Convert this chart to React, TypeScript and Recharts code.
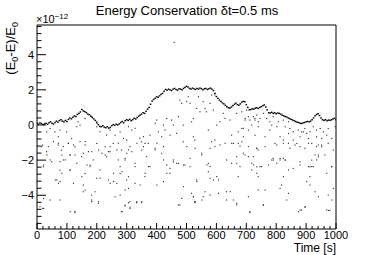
import React from 'react';
import { ScatterChart, Scatter, XAxis, YAxis, ReferenceLine } from 'recharts';

// Upper (dense) band of the energy deviation, sampled every 5 s, units of 1e-12
const envelopeStepSeconds = 5;
const envelopeValues: number[] = [
  0.10, 0.05, 0.12, 0.08, 0.02, 0.06, 0.10, 0.04, 0.12, 0.18, 0.10, 0.05, 0.14, 0.22, 0.16, 0.25, 0.30, 0.22, 0.18, 0.26,
  0.20, 0.32, 0.40, 0.35, 0.44, 0.52, 0.48, 0.60, 0.66, 0.74, 0.88, 0.80, 0.76, 0.70, 0.62, 0.58, 0.50, 0.42, 0.34, 0.26,
  0.12, 0.02, -0.08, -0.10, -0.04, -0.12, -0.16, -0.10, -0.18, -0.14, -0.04, 0.02, -0.02, 0.04, 0.00, 0.06, 0.14, 0.20, 0.12, 0.24,
  0.30, 0.26, 0.32, 0.24, 0.30, 0.38, 0.34, 0.42, 0.50, 0.56, 0.62, 0.70, 0.66, 0.78, 0.90, 1.00, 1.18, 1.36, 1.45, 1.52,
  1.60, 1.58, 1.66, 1.74, 1.80, 1.92, 2.02, 1.98, 2.04, 2.00, 1.96, 2.04, 2.08, 2.02, 1.98, 2.06, 2.04, 2.00, 2.08, 2.14,
  2.20, 2.16, 2.08, 2.04, 2.10, 2.06, 2.02, 2.08, 2.04, 2.10, 2.06, 2.00, 2.06, 2.08, 2.02, 2.06, 2.10, 2.04, 1.96, 1.80,
  1.62, 1.52, 1.42, 1.34, 1.26, 1.20, 1.12, 1.04, 0.98, 0.96, 1.02, 1.10, 1.18, 1.24, 1.16, 1.12, 1.20, 1.30, 1.34, 1.32,
  1.16, 1.00, 0.86, 0.88, 0.92, 0.90, 0.96, 0.98, 0.94, 1.00, 1.04, 1.10, 1.14, 1.02, 0.86, 0.70, 0.68, 0.72, 0.66, 0.70,
  0.64, 0.68, 0.66, 0.62, 0.56, 0.52, 0.48, 0.46, 0.40, 0.36, 0.32, 0.28, 0.24, 0.20, 0.16, 0.14, 0.10, 0.08, 0.12, 0.14,
  0.18, 0.20, 0.18, 0.22, 0.30, 0.40, 0.52, 0.60, 0.64, 0.54, 0.40, 0.30, 0.26, 0.30, 0.24, 0.28, 0.26, 0.30, 0.34, 0.38,
  0.30,
];

// Scattered points below the band: [time s, value 1e-12]
const scatterPoints: [number, number][] = [
  [32,-0.39],[44,-0.2],[60,-0.39],[71,-0.67],[77,-0.29],[99,-0.39],[133,-0.1],[138,0.18],[144,-0.01],[161,0.37],
  [183,0.47],[200,0.18],[200,-0.1],[211,-0.39],[233,-0.58],[244,-0.29],[261,-0.58],[278,-0.39],[289,-0.77],[300,-0.86],[306,-0.1],
  [16,-1.24],[32,-1.52],[44,-1.99],[55,-0.95],[71,-1.14],[82,-1.43],[88,-1.99],[105,-1.05],[110,-1.71],[116,-0.77],
  [127,-1.24],[133,-2.18],[149,-1.8],[161,-0.95],[172,-1.52],[177,-2.37],[188,-1.99],[200,-1.05],[211,-2.56],[228,-1.24],
  [233,-1.8],[244,-1.52],[255,-1.05],[272,-1.99],[278,-2.76],[283,-1.43],[294,-1.99],[306,-2.95],[21,-2.38],[77,-2.57],
  [110,-2.57],[161,-2.76],
  [19,-1.14],[38,-1.23],[33,-1.71],[49,-2.09],[22,-2.28],[72,-1.04],[88,-1.23],[83,-1.71],[77,-2.09],[94,-1.99],
  [105,-1.04],[111,-1.71],[122,-1.14],[127,-1.71],[144,-0.95],[155,-1.61],[161,-1.14],[167,-2.28],[178,-2.28],[183,-1.52],
  [206,-1.42],[217,-1.61],[228,-1.71],[239,-1.52],[245,-1.23],[272,-1.04],[267,-1.42],[278,-2.37],[284,-2.66],[295,-1.9],
  [300,-1.61],[306,-1.42],[311,-1.23],[328,-2.18],[334,-1.04],[356,-1.23],[367,-1.8],[373,-2.37],[395,-1.42],[401,-1.04],
  [417,-1.61],[423,-1.23],[434,-2.28],[445,-2.75],[456,-2.09],[473,-2.18],[490,-2.28],[501,-1.23],[512,-1.9],[529,-1.33],
  [535,-3.22],[66,-3.13],[77,-3.22],[83,-2.75],[111,-2.56],[122,-3.32],[150,-2.94],[155,-3.42],[155,-3.8],[161,-3.7],
  [183,-3.99],[183,-4.27],[194,-3.8],[200,-3.03],[211,-3.03],[206,-4.37],[239,-3.13],[245,-3.32],[256,-2.75],[256,-3.22],
  [261,-4.08],[267,-3.32],[278,-3.99],[284,-4.93],[295,-4.56],[295,-3.7],[300,-3.13],[306,-3.61],[311,-4.37],[311,-4.75],
  [328,-3.32],[334,-4.37],[351,-4.37],[345,-3.42],[362,-2.75],[401,-3.42],[423,-3.22],[434,-2.75],[473,-4.56],[484,-4.18],
  [490,-3.51],[523,-4.08],[529,-4.37],[111,-4.93],[127,-4.93],[22,-4.18],[22,-4.75],[10,-4.65],[44,-4.27],[77,-4.27],
  [61,-3.13],[72,-3.32],
  [584,-0.95],[595,-1.23],[629,-1.04],[651,-1.04],[673,-1.04],[679,-1.2],[707,-1.23],[735,-1.33],[740,-1.42],[763,-1.23],
  [802,-1.14],[824,-1.04],[841,-1.04],[846,-1.33],[863,-1.14],[880,-1.23],[896,-1.33],[908,-1.04],[935,-1.23],[941,-1.14],
  [952,-1.23],[974,-1.04],[991,-1.42],[551,-1.71],[568,-2.28],[573,-2.18],[573,-2.66],[607,-3.89],[579,-3.04],[590,-3.13],
  [607,-3.13],[534,-3.13],[523,-4.08],[528,-4.37],[562,-3.8],[556,-4.08],[634,-3.8],[646,-3.8],[651,-2.18],[668,-2.18],
  [673,-2.94],[690,-1.61],[707,-1.8],[718,-2.18],[724,-2.28],[746,-2.37],[735,-2.75],[740,-3.7],[763,-3.7],[774,-2.28],
  [785,-1.99],[790,-1.9],[813,-1.99],[824,-1.9],[830,-1.99],[802,-2.18],[824,-2.94],[841,-2.56],[818,-3.42],[813,-3.61],
  [841,-3.89],[835,-4.27],[880,-2.28],[908,-2.37],[919,-2.37],[924,-2.37],[930,-1.71],[941,-1.71],[935,-1.99],[963,-1.71],
  [913,-2.94],[902,-3.22],[913,-3.42],[930,-3.8],[941,-4.08],[969,-2.75],[974,-3.99],[985,-2.37],[991,-3.61],[980,-4.84],
  [969,-4.84],[896,-4.65],[885,-4.84],[874,-4.93],[712,-4.93],[668,-4.46],[657,-4.27],[634,-4.27],[707,-4.08],[757,-4.56],
  [551,-4.27],[579,-3.99],[517,-3.89],
  [317,-0.29],[328,-0.19],[344,-0.76],[356,-0.67],[361,-1.05],[350,-1.43],[372,-1.05],[378,-0.58],[395,0.09],[400,0.28],
  [406,-0.39],[417,-0.67],[423,-0.01],[428,-0.29],[434,0.37],[445,-0.58],[450,0.28],[456,-0.01],[467,-0.48],[473,0.47],
  [478,1.42],[484,1.23],[489,-0.96],[489,-0.01],[501,1.33],[506,1.61],[512,1.23],[517,0.18],[523,0.37],[523,-0.67],
  [534,0.94],[540,1.61],[545,0.75],[556,1.33],[562,0.94],[567,0.75],[573,-0.29],[579,1.23],[584,1.71],[590,0.85],
  [595,1.71],[601,-0.01],[612,0.18],[623,0.66],[629,0.37],[646,0.28],[651,-0.58],[668,0.66],[673,-0.39],[685,-0.96],
  [690,-0.19],[696,0.28],[707,0.47],[712,0.28],[718,-0.01],[729,0.37],[740,0.18],[634,-1.99],[668,-1.8],[657,-1.05],
  [612,-1.14],[595,-0.86],[579,-1.33],[551,-1.61],[528,-0.86],[512,-2.37],[495,-2.28],[467,-2.18],[456,-1.99],[445,-2.47],
  [423,-1.99],[395,-1.33],[378,-2.37],[361,-2.94],[328,-2.37],[317,-1.52],[350,-0.96],[718,-2.56],[735,-1.33],[740,-2.94],
  [696,-1.71],[579,-2.37],[601,-2.94],[679,-2.37],
  [685,0.75],[696,0.37],[701,0.85],[724,0.47],[729,0.28],[735,0.56],[746,0.37],[757,0.66],[768,0.37],[779,0.18],
  [785,-0.01],[790,0.47],[802,-0.1],[807,0.18],[824,0.28],[830,-0.1],[841,0.18],[846,-0.2],[857,-0.39],[874,-0.29],
  [885,-0.39],[896,-0.2],[902,-0.48],[913,-0.39],[924,-0.1],[935,-0.29],[947,-0.2],[958,-0.39],[974,-0.2],[986,-0.77],
  [997,-0.1],[685,-0.2],[690,-0.67],[707,-0.29],[729,-0.58],[740,-0.1],[763,-0.67],[779,-0.29],[796,-1.05],[813,-0.67],
  [824,-0.86],[841,-0.48],[857,-0.86],[869,-1.05],[880,-0.67],[891,-0.39],[908,-0.77],[919,-1.05],[935,-0.67],[952,-0.77],
  [969,-0.58],[724,-1.81],[735,-2.38],[751,-2.38],[790,-2.0],[813,-1.9],[830,-2.0],[857,-2.47],[880,-2.1],[919,-2.0],
  [941,-1.81],[952,-1.14],[986,-2.38],[913,-2.38],
  [19,-4.74],[127,-4.99],[183,-4.36],[205,-4.46],[283,-4.93],[294,-4.61],[311,-4.68],[306,-4.42],[333,-4.42],[350,-4.42],
  [478,-4.55],[528,-4.42],[668,-4.55],[712,-4.99],[757,-4.55],[880,-4.84],[897,-4.68],[975,-4.87],[986,-4.27],
];

const outlierPoints: [number, number][] = [[459, 4.7]];

const xTicks = [
  0, 20, 40, 60, 80, 100, 120, 140, 160, 180, 200, 220, 240, 260, 280, 300, 320, 340, 360, 380,
  400, 420, 440, 460, 480, 500, 520, 540, 560, 580, 600, 620, 640, 660, 680, 700, 720, 740, 760, 780,
  800, 820, 840, 860, 880, 900, 920, 940, 960, 980, 1000,
];
const xMajorTicks = [0, 100, 200, 300, 400, 500, 600, 700, 800, 900, 1000];
const yTicks = [
  -5.6, -5.2, -4.8, -4.4, -4, -3.6, -3.2, -2.8, -2.4, -2, -1.6, -1.2, -0.8, -0.4, 0,
  0.4, 0.8, 1.2, 1.6, 2, 2.4, 2.8, 3.2, 3.6, 4, 4.4, 4.8, 5.2, 5.6,
];
const yMajorTicks = [-4, -2, 0, 2, 4];

const X_DOMAIN: [number, number] = [0, 1000];
const Y_DOMAIN: [number, number] = [-5.92, 5.69];

const W = 374;
const H = 255;
const PLOT_LEFT = 37;
const PLOT_RIGHT = 336;
const PLOT_TOP = 25;
const PLOT_BOTTOM = 229;
const FONT = '"Liberation Sans", Arial, Helvetica, sans-serif';

const envelopeData = envelopeValues.map((v, i) => ({ t: i * envelopeStepSeconds, v }));
const scatterData = scatterPoints.map(([t, v]) => ({ t, v }));
const outlierData = outlierPoints.map(([t, v]) => ({ t, v }));

const fmt = (v: number) => (v < 0 ? '\u2212' + Math.abs(v) : String(v));

const Dot = (props: any) => {
  const { cx, cy } = props;
  if (cx == null || cy == null) return null;
  return <rect x={cx - 0.55} y={cy - 0.55} width={1.1} height={1.1} fill="#222" />;
};

const BandDot = (props: any) => {
  const { cx, cy } = props;
  if (cx == null || cy == null) return null;
  return <rect x={cx - 0.8} y={cy - 0.7} width={1.6} height={1.4} fill="#000" />;
};

const XTick = (props: any) => {
  const { x, payload } = props;
  const v = payload.value as number;
  const major = xMajorTicks.includes(v);
  return (
    <g>
      <line x1={x} x2={x} y1={PLOT_BOTTOM} y2={PLOT_BOTTOM - (major ? 6 : 3)} stroke="#000" strokeWidth={1} />
      {major && (
        <text x={x} y={239} textAnchor="middle" fontSize={11} fontFamily={FONT} fill="#000">
          {fmt(v)}
        </text>
      )}
    </g>
  );
};

const YTick = (props: any) => {
  const { y, payload } = props;
  const v = payload.value as number;
  const major = yMajorTicks.some((m) => Math.abs(m - v) < 1e-6);
  return (
    <g>
      <line x1={PLOT_LEFT} x2={PLOT_LEFT + (major ? 9 : 4.5)} y1={y} y2={y} stroke="#000" strokeWidth={1} />
      {major && (
        <text x={PLOT_LEFT - 3} y={y + 4} textAnchor="end" fontSize={11} fontFamily={FONT} fill="#000">
          {fmt(Math.round(v))}
        </text>
      )}
    </g>
  );
};

export default function App() {
  return (
    <div style={{ position: 'absolute', left: 0, top: 0, width: W, height: H, background: '#fff' }}>
      <ScatterChart
        width={W}
        height={H}
        margin={{ top: PLOT_TOP, right: W - PLOT_RIGHT, bottom: 0, left: 0 }}
      >
        <XAxis
          type="number"
          dataKey="t"
          domain={X_DOMAIN}
          ticks={xTicks}
          interval={0}
          height={H - PLOT_BOTTOM}
          tickLine={false}
          tickSize={0}
          axisLine={{ stroke: '#000' }}
          tick={<XTick />}
          allowDataOverflow
        />
        <YAxis
          type="number"
          dataKey="v"
          domain={Y_DOMAIN}
          ticks={yTicks}
          interval={0}
          width={PLOT_LEFT}
          tickLine={false}
          tickSize={0}
          axisLine={{ stroke: '#000' }}
          tick={<YTick />}
          allowDataOverflow
        />
        <ReferenceLine y={Y_DOMAIN[1]} stroke="#000" strokeWidth={1} ifOverflow="extendDomain" />
        <ReferenceLine x={X_DOMAIN[1]} stroke="#000" strokeWidth={1} ifOverflow="extendDomain" />
        <Scatter data={scatterData} shape={<Dot />} isAnimationActive={false} />
        <Scatter data={envelopeData} shape={<BandDot />} isAnimationActive={false} />
        <Scatter data={outlierData} shape={<Dot />} isAnimationActive={false} />
      </ScatterChart>
      <svg
        width={W}
        height={H}
        style={{ position: 'absolute', left: 0, top: 0, pointerEvents: 'none' }}
      >
        <text x={187} y={15} textAnchor="middle" fontSize={13} fontFamily={FONT} fill="#000">
          Energy Conservation δt=0.5 ms
        </text>
        <text x={36} y={23} fontSize={11} fontFamily={FONT} fill="#000">
          ×10
          <tspan fontSize={8} dy={-4.5}>−12</tspan>
        </text>
        <text
          transform="translate(15, 22) rotate(-90)"
          textAnchor="end"
          fontSize={13}
          fontFamily={FONT}
          fill="#000"
        >
          (E<tspan fontSize={9} dy={3}>0</tspan>
          <tspan dy={-3}>-E)/E</tspan>
          <tspan fontSize={9} dy={3}>0</tspan>
        </text>
        <text x={PLOT_RIGHT} y={252} textAnchor="end" fontSize={12} fontFamily={FONT} fill="#000">
          Time [s]
        </text>
      </svg>
    </div>
  );
}
